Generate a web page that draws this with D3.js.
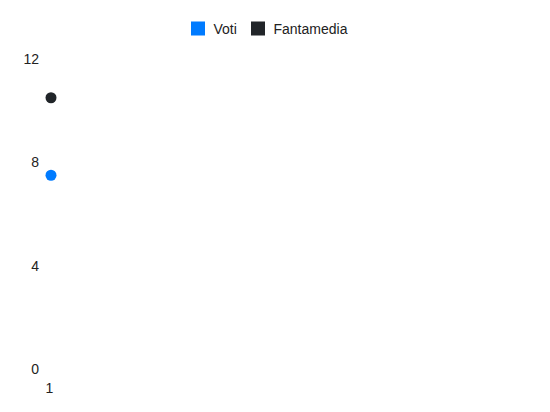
<!DOCTYPE html>
<html>
<head>
<meta charset="utf-8">
<script src="https://cdn.jsdelivr.net/npm/d3@7"></script>
<style>
  html, body { margin: 0; padding: 0; background: #fff; }
  svg { display: block; font-family: "Liberation Sans", Arial, Helvetica, sans-serif; }
</style>
</head>
<body>
<svg id="chart" width="550" height="412"></svg>
<script>
const categories = ["1"];
const seriesNames = ["Voti", "Fantamedia"];
const seriesColors = ["#007bff", "#212529"];
const voti = [7.5];
const fantamedia = [10.5];
const yTicks = [0, 4, 8, 12];

const svg = d3.select("#chart");

const y = d3.scaleLinear().domain([0, 12]).range([369, 59]);
const x = d3.scalePoint().domain(categories).range([51, 530]).align(0);

// Y axis
const yAxis = svg.append("g")
  .attr("transform", "translate(39,0)")
  .call(d3.axisLeft(y).tickValues(yTicks).tickSize(0).tickPadding(0).tickFormat(d3.format("d")));
yAxis.select(".domain").remove();
yAxis.selectAll("text").attr("font-size", 14).attr("fill", "#222").attr("font-family", "'Liberation Sans', Arial, sans-serif");

// X axis
const xAxis = svg.append("g")
  .attr("transform", "translate(-2,383)")
  .call(d3.axisBottom(x).tickSize(0).tickPadding(0));
xAxis.select(".domain").remove();
xAxis.selectAll("text").attr("font-size", 14).attr("fill", "#222").attr("font-family", "'Liberation Sans', Arial, sans-serif");

// Points
const series = [voti, fantamedia];
series.forEach((vals, si) => {
  svg.append("g").selectAll("circle")
    .data(categories.map((c, i) => ({ c, v: vals[i] })))
    .join("circle")
    .attr("cx", d => x(d.c))
    .attr("cy", d => y(d.v))
    .attr("r", 5.5)
    .attr("fill", seriesColors[si]);
});

// Legend
const legendX = [191, 251];
const legend = svg.append("g");
seriesNames.forEach((name, i) => {
  const g = legend.append("g").attr("transform", `translate(${legendX[i]},21.5)`);
  g.append("rect").attr("width", 14).attr("height", 14).attr("fill", seriesColors[i]);
  g.append("text").attr("x", 22.5).attr("y", 12).attr("font-size", 14).attr("fill", "#222").text(name);
});
</script>
</body>
</html>
